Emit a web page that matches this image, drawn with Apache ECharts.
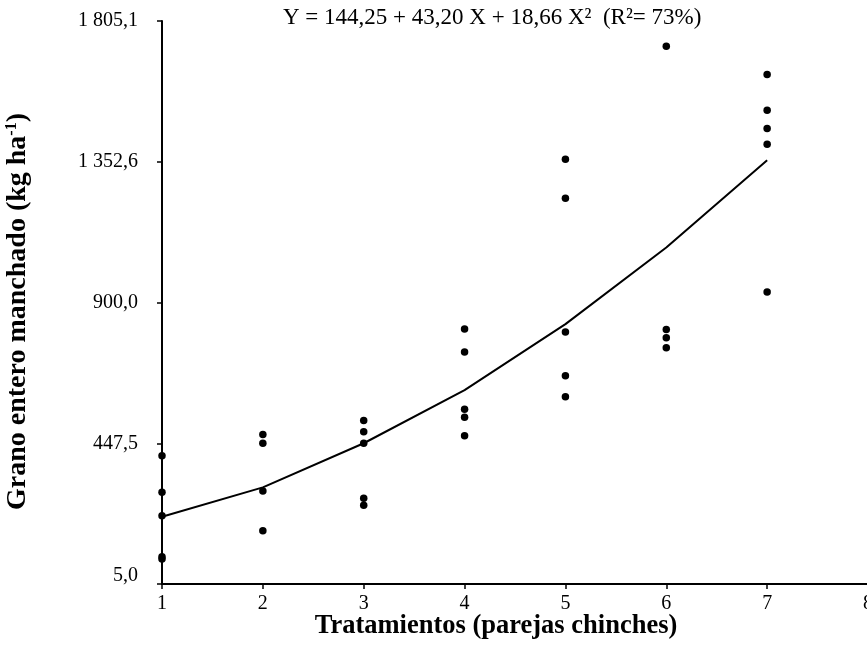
<!DOCTYPE html>
<html>
<head>
<meta charset="utf-8">
<script src="https://cdn.jsdelivr.net/npm/echarts@6/dist/echarts.min.js"></script>
<style>html,body{margin:0;padding:0;background:#fff;}#c{width:867px;height:648px;}</style>
</head>
<body>
<div id="c"></div>
<script>
// Treatments (x) and observed values per treatment
const treatments = [1, 2, 3, 4, 5, 6, 7];
const obsT1 = [415, 298, 223, 92, 85];
const obsT2 = [483, 455, 302, 175];
const obsT3 = [528, 492, 455, 279, 257];
const obsT4 = [820, 747, 564, 538, 479];
const obsT5 = [1363, 1238, 811, 671, 604];
const obsT6 = [1724, 819, 792, 760];
const obsT7 = [1634, 1520, 1461, 1411, 939];
// Fitted curve values read at each treatment
const fitted = [220, 314, 455, 625, 836, 1081, 1360];
// Y tick labels
const yTickLabels = ["5,0", "447,5", "900,0", "1 352,6", "1 805,1"];
const equation = "Y = 144,25 + 43,20 X + 18,66 X\u00B2  (R\u00B2= 73%)";

const obsAll = [obsT1, obsT2, obsT3, obsT4, obsT5, obsT6, obsT7];
const scatterData = [];
obsAll.forEach((arr, i) => arr.forEach(v => scatterData.push([treatments[i], v])));
const lineData = treatments.map((t, i) => [t, fitted[i]]);

const FONT = "Liberation Serif";
const chart = echarts.init(document.getElementById('c'), null, {renderer: 'canvas'});
chart.setOption({
  animation: false,
  backgroundColor: '#fff',
  textStyle: {fontFamily: FONT, color: '#000'},
  title: {
    text: equation, left: 278, top: 1,
    textStyle: {fontFamily: FONT, fontSize: 23, fontWeight: 'normal', color: '#000'}
  },
  grid: {left: 162, right: -1, top: 21, bottom: 64, containLabel: false, outerBoundsMode: 'none'},
  xAxis: {
    type: 'value', min: 1, max: 8, interval: 1,
    axisLine: {lineStyle: {color: '#000', width: 2}},
    axisTick: {show: true, length: 5, inside: false, lineStyle: {color: '#000', width: 1.5}},
    axisLabel: {fontFamily: FONT, fontSize: 20, color: '#000', margin: 10},
    splitLine: {show: false}
  },
  yAxis: {
    type: 'value', min: 5, max: 1805.1, interval: 450.025,
    name: 'Grano entero manchado (kg ha{sup|-1})',
    nameLocation: 'middle', nameGap: 130, nameRotate: 90,
    nameTextStyle: {fontFamily: FONT, fontSize: 28, fontWeight: 'bold', color: '#000', padding: [0, 18, 0, 0],
      rich: {sup: {fontFamily: FONT, fontSize: 16, fontWeight: 'bold', color: '#000', verticalAlign: 'top', padding: [0,0,10,0]}}},
    axisLine: {show: true, lineStyle: {color: '#000', width: 2}},
    axisTick: {show: true, length: 5, lineStyle: {color: '#000', width: 1.5}},
    axisLabel: {fontFamily: FONT, fontSize: 20, color: '#000', margin: 24,
      rich: {lo: {fontFamily: FONT, fontSize: 20, color: '#000', padding: [0, 0, 16, 0]}},
      formatter: (v, idx) => {
        const t = yTickLabels[idx];
        if (t === undefined) return '';
        return idx === 0 ? '{lo|' + t + '}' : t;
      }},
    splitLine: {show: false}
  },
  graphic: [{
    type: 'text',
    style: {text: 'Tratamientos (parejas chinches)', font: 'bold 26.5px "Liberation Serif"', fill: '#000',
      x: 496, y: 640, textAlign: 'center', textVerticalAlign: 'bottom'}
  }],
  series: [
    {type: 'line', data: lineData, symbol: 'none', lineStyle: {color: '#000', width: 2}, z: 2},
    {type: 'scatter', data: scatterData, symbol: 'circle', symbolSize: 7.5, itemStyle: {color: '#000', opacity: 1}, z: 3}
  ]
});
</script>
</body>
</html>
